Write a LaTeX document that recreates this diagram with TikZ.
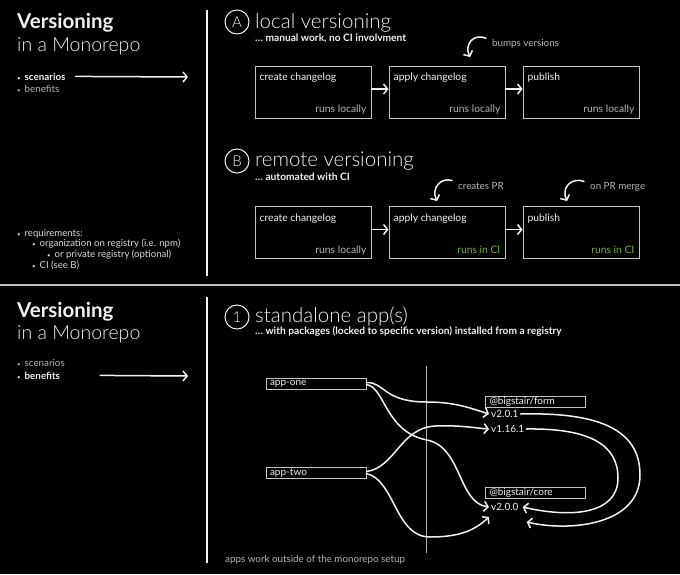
\documentclass[tikz,border=0pt]{standalone}
\usepackage{fontspec}
\setmainfont{Lato}
\newfontfamily\lightfont{Lato Light}
\usetikzlibrary{arrows.meta}

\definecolor{fg}{HTML}{F2F2F2}
\definecolor{boxgray}{HTML}{C4C4C4}
\definecolor{dimgray}{HTML}{B4B4B4}
\definecolor{cigreen}{HTML}{74B03C}
\newcommand{\bul}{{\fontsize{6}{6}\selectfont\textbullet}\hspace{4pt}}

\tikzset{
  arr/.style={draw=fg, line width=1.5pt, line cap=round, -{Straight Barb[length=4pt,width=10pt]}},
  sep/.style={draw=fg, line width=1.5pt},
  divider/.style={draw=boxgray, line width=2.5pt},
  stepbox/.style={draw=boxgray, line width=1pt, minimum width=116pt, minimum height=52pt, inner sep=0pt},
  boxtext/.style={text=fg, inner sep=0pt, font=\fontsize{10.3}{12}\selectfont},
  runstext/.style={boxtext, text=dimgray},
  citext/.style={boxtext, text=cigreen},
  heading/.style={text=fg, inner sep=0pt, font=\bfseries\fontsize{20.5}{22}\selectfont},
  subheading/.style={text=fg, inner sep=0pt, font=\lightfont\fontsize{19.5}{21}\selectfont},
  bigtitle/.style={text=fg, inner sep=0pt, font=\lightfont\fontsize{20.5}{22}\selectfont},
  tagline/.style={text=fg, inner sep=0pt, font=\bfseries\fontsize{10.2}{12}\selectfont},
  letter/.style={circle, draw=fg, line width=1pt, minimum size=24pt, inner sep=0pt, text=fg, font=\lightfont\fontsize{15}{15}\selectfont},
  listtext/.style={text=fg, inner sep=0pt, font=\fontsize{9.8}{11}\selectfont},
  reqtext/.style={text=fg!90!black, inner sep=0pt, font=\fontsize{9.6}{11}\selectfont},
  pkgbox/.style={draw=boxgray, line width=0.8pt, text width=92pt, inner xsep=4pt, inner ysep=0pt, minimum height=11pt, align=left, text=fg, font=\fontsize{10}{11}\selectfont},
  vtext/.style={text=fg, inner sep=2pt, font=\fontsize{10}{11}\selectfont},
}

\begin{document}
\begin{tikzpicture}[x=1pt,y=-1pt]
\fill[black] (0,0) rectangle (680,574);
\useasboundingbox (0,0) rectangle (680,574);

\node[heading, anchor=base west] (title1) at (17,28) {Versioning};
\node[subheading, anchor=base west] (sub1) at (17,51) {in a Monorepo};
\node[listtext, anchor=base west] (scen1) at (17,80) {\bul\textbf{scenarios}};
\node[listtext, text=dimgray, anchor=base west] (bene1) at (17,92) {\bul benefits};
\coordinate (scen1to) at (188,77);
\draw[arr] ([xshift=10pt]scen1.east) -- (scen1to);

\node[reqtext, anchor=base west] (req) at (17,236) {\bul requirements:};
\node[reqtext, anchor=base west] (reqorg) at (32,246) {\bul organization on registry (i.e. npm)};
\node[reqtext, anchor=base west] (reqpriv) at (47,257) {\bul or private registry (optional)};
\node[reqtext, anchor=base west] (reqci) at (32,268) {\bul CI (see B)};

\draw[sep] (207,10) -- (207,276);
\draw[divider] (0,285) -- (680,285);
\draw[sep] (207,297) -- (207,563);

\node[letter] (ca) at (237,22) {A};
\node[bigtitle, anchor=base west] (ta) at (255,28) {local versioning};
\node[tagline, anchor=base west] (taga) at (255,41) {… manual work, no CI involvment};
\node[stepbox] (a1) at (313,92) {};
\node[stepbox] (a2) at (447,92) {};
\node[stepbox] (a3) at (581,92) {};
\node[boxtext, anchor=base west] at ([xshift=5pt,yshift=-15pt]a1.north west) {create changelog};
\node[boxtext, anchor=base west] at ([xshift=5pt,yshift=-15pt]a2.north west) {apply changelog};
\node[boxtext, anchor=base west] at ([xshift=5pt,yshift=-15pt]a3.north west) {publish};
\node[runstext, anchor=base east] at ([xshift=-5pt,yshift=6pt]a1.south east) {runs locally};
\node[runstext, anchor=base east] at ([xshift=-5pt,yshift=6pt]a2.south east) {runs locally};
\node[runstext, anchor=base east] at ([xshift=-5pt,yshift=6pt]a3.south east) {runs locally};
\draw[arr] ([yshift=3pt]a1.east) -- ([yshift=3pt]a2.west);
\draw[arr] ([yshift=3pt]a2.east) -- ([yshift=3pt]a3.west);
\node[listtext, text=dimgray, anchor=base west] (bumps) at (492,46) {bumps versions};
\coordinate (bumpsto) at (470,57);
\draw[arr] ([xshift=-6pt,yshift=5pt]bumps.west) .. controls (474,33) and (464,44) .. (bumpsto);

\node[letter] (cb) at (237,161) {B};
\node[bigtitle, anchor=base west] (tb) at (255,166) {remote versioning};
\node[tagline, anchor=base west] (tagb) at (255,180) {… automated with CI};
\node[stepbox] (b1) at (313,232.5) {};
\node[stepbox] (b2) at (447,232.5) {};
\node[stepbox] (b3) at (581,232.5) {};
\node[boxtext, anchor=base west] at ([xshift=5pt,yshift=-15pt]b1.north west) {create changelog};
\node[boxtext, anchor=base west] at ([xshift=5pt,yshift=-15pt]b2.north west) {apply changelog};
\node[boxtext, anchor=base west] at ([xshift=5pt,yshift=-15pt]b3.north west) {publish};
\node[runstext, anchor=base east] at ([xshift=-5pt,yshift=6pt]b1.south east) {runs locally};
\node[citext, anchor=base east] at ([xshift=-5pt,yshift=6pt]b2.south east) {runs in CI};
\node[citext, anchor=base east] at ([xshift=-5pt,yshift=6pt]b3.south east) {runs in CI};
\draw[arr] ([yshift=3pt]b1.east) -- ([yshift=3pt]b2.west);
\draw[arr] ([yshift=3pt]b2.east) -- ([yshift=3pt]b3.west);
\node[listtext, text=dimgray, anchor=base west] (prs) at (458,189) {creates PR};
\coordinate (prsto) at (437,201);
\draw[arr] ([xshift=-6pt,yshift=5pt]prs.west) .. controls (441,177) and (431,188) .. (prsto);
\node[listtext, text=dimgray, anchor=base west] (merge) at (590,189) {on PR merge};
\coordinate (mergeto) at (567,201);
\draw[arr] ([xshift=-6pt,yshift=5pt]merge.west) .. controls (571,177) and (561,188) .. (mergeto);

\node[heading, anchor=base west] (title2) at (17,317) {Versioning};
\node[subheading, anchor=base west] (sub2) at (17,339) {in a Monorepo};
\node[listtext, text=dimgray, anchor=base west] (scen2) at (17,366) {\bul scenarios};
\node[listtext, anchor=base west] (bene2) at (17,379) {\bul\textbf{benefits}};
\coordinate (bene2to) at (188,376);
\draw[arr] ([xshift=40pt]bene2.east) -- (bene2to);

\node[letter] (c1) at (237,317) {1};
\node[bigtitle, anchor=base west] (t1) at (255,322) {standalone app(s)};
\node[tagline, anchor=base west] (tag1) at (255,334) {… with packages (locked to specific version) installed from a registry};
\draw[draw=dimgray, line width=0.8pt] (426,366) -- (426,553);

\node[pkgbox] (appone) at (316,383.5) {app-one};
\node[pkgbox] (apptwo) at (316,472.5) {app-two};
\node[pkgbox] (form) at (535.5,401.5) {@bigstair/form};
\node[pkgbox] (core) at (535.5,493) {@bigstair/core};
\node[vtext, anchor=west] (form201) at (489,414) {v2.0.1};
\node[vtext, anchor=west] (form1161) at (489,429) {v1.16.1};
\node[vtext, anchor=west] (core200) at (489,507) {v2.0.0};

\draw[arr] ([yshift=1pt]appone.east) .. controls (385,382) and (383,402) .. (427,402) .. controls (455,402) and (470,408) .. (form201.west);
\draw[arr] ([yshift=-1pt]appone.east) .. controls (385,387) and (385,432) .. (427,440) .. controls (462,447) and (458,503) .. (core200.west);
\draw[arr] ([yshift=1pt]apptwo.east) .. controls (395,468) and (400,428) .. (435,426) .. controls (460,425) and (475,428) .. (form1161.west);
\draw[arr] ([yshift=-1pt]apptwo.east) .. controls (395,480) and (395,537) .. (430,537) .. controls (460,537) and (475,530) .. ([yshift=-10pt]core200.west);
\draw[arr] (form201.east) .. controls (600,412) and (640,430) .. (640,475) .. controls (640,525) and (570,532) .. ([xshift=6pt,yshift=-15pt]core200.east);
\draw[arr] (form1161.east) .. controls (590,428) and (618,445) .. (618,478) .. controls (618,515) and (570,518) .. ([xshift=2pt]core200.east);

\node[listtext, text=dimgray, anchor=base west] (note) at (225,562) {apps work outside of the monorepo setup};
\end{tikzpicture}
\end{document}
